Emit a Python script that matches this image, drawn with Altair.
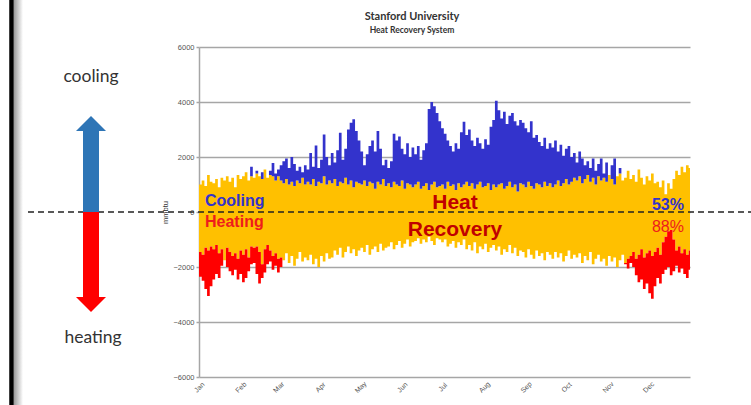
import altair as alt
import pandas as pd

# Calendar used by the x axis (day of year, binned in 2-day steps)
months = ["Jan", "Feb", "Mar", "Apr", "May", "Jun", "Jul", "Aug", "Sep", "Oct", "Nov", "Dec"]
month_start = [0, 31, 59, 90, 120, 151, 181, 212, 243, 273, 304, 334]
days_in_year = 365
bin_days = 2
y_ticks = [-6000, -4000, -2000, 0, 2000, 4000, 6000]

# Upper edge of the heat-recovery band (mmbtu), one value per 2-day bin
recovery_top = [
    1000, 1150, 950, 1350, 1100, 1050, 1200, 900, 1250, 1150,
    1300, 1100, 1250, 900, 1350, 1200, 1300, 1450, 1150, 1300,
    1250, 1400, 1300, 1200, 1550, 1250, 1350, 1300, 1150, 1300,
    1150, 1050, 1200, 1000, 1100, 950, 1150, 1050, 1250, 1000,
    1100, 1000, 1200, 950, 1100, 1050, 1300, 1000, 1150, 1050,
    1200, 950, 1100, 1050, 1250, 1000, 1150, 900, 1100, 1050,
    1000, 1150, 950, 1100, 1050, 850, 1100, 1000, 1200, 950,
    1050, 900, 1100, 1000, 950, 1150, 850, 1050, 1000, 900,
    1000, 1100, 850, 950, 1050, 800, 1000, 1100, 900, 950,
    1000, 850, 1100, 950, 1000, 800, 1050, 900, 1000, 1100,
    950, 1050, 850, 1000, 1100, 900, 950, 1050, 800, 1000,
    900, 1000, 1050, 850, 950, 1100, 900, 1000, 750, 1050,
    1000, 900, 1100, 950, 850, 1050, 1000, 900, 1100, 950,
    1050, 900, 1000, 1150, 950, 1050, 1200, 1000, 1100, 1250,
    1150, 1300, 1050, 1200, 1350, 1100, 1250, 1000, 1300, 1150,
    1250, 1100, 1350, 1200, 1000, 1300, 1400, 1150, 1250, 1500,
    1200, 1350, 1100, 1550, 1250, 1000, 1300, 1150, 1400, 1050,
    1100, 900, 1150, 650, 1050, 850, 1200, 1500, 1350, 1650,
    1450, 1700, 1600,
]

# Lower edge of the heat-recovery band (mmbtu)
recovery_bottom = [
    -1450, -1550, -1300, -1400, -1250, -1350, -1200, -1500, -1350, -1750,
    -1300, -1450, -1600, -1500, -1700, -1400, -1550, -1350, -1650, -1250,
    -1300, -1250, -1450, -1900, -1350, -1200, -1400, -1600, -1500, -1700,
    -1650, -1750, -1500, -1850, -1600, -1950, -1700, -1450, -1800, -1650,
    -1750, -1550, -1900, -1700, -2000, -1600, -1800, -1500, -1700, -1650,
    -1400, -1550, -1300, -1650, -1450, -1250, -1500, -1350, -1600, -1400,
    -1300, -1450, -1200, -1550, -1350, -1250, -1450, -1150, -1400, -1300,
    -1250, -1100, -1350, -1200, -1050, -1300, -1150, -1000, -1250, -1100,
    -1050, -950, -1150, -1000, -1100, -900, -1050, -1200, -950, -1000,
    -1100, -1000, -1250, -1150, -1050, -1300, -1100, -1200, -1000, -1350,
    -1200, -1400, -1100, -1500, -1250, -1350, -1150, -1450, -1300, -1200,
    -1400, -1250, -1550, -1350, -1450, -1200, -1500, -1300, -1600, -1400,
    -1450, -1650, -1350, -1550, -1700, -1400, -1600, -1500, -1750, -1450,
    -1550, -1700, -1450, -1650, -1500, -1800, -1600, -1400, -1700, -1550,
    -1650, -1500, -1850, -1600, -1750, -1450, -1900, -1700, -1550, -1800,
    -1700, -1950, -1600, -1800, -1650, -2000, -1750, -1550, -1850, -1700,
    -1600, -1450, -1700, -1550, -1350, -1650, -1500, -1400, -1600, -1450,
    -1300, -1550, -1100, -900, -700, -650, -1000, -1400, -1250, -1500,
    -1350, -1550, -1400,
]

# Peak of the cooling load above the recovery band (0 = no cooling)
cooling_top = [
    0, 0, 0, 0, 0, 0, 0, 0, 0, 0,
    0, 0, 0, 0, 0, 0, 0, 0, 0, 1650,
    0, 1500, 0, 1450, 0, 0, 1500, 1780, 1400, 1550,
    1700, 1850, 1950, 1600, 2000, 1750, 1500, 1650, 1450, 1700,
    1550, 2150, 1650, 2420, 1600, 1900, 2820, 2000, 1700, 2150,
    1800, 2250, 2880, 1900, 2300, 3000, 3250, 3370, 2950, 2600,
    2200, 1700, 2100, 2400, 2600, 2200, 2950, 2300, 1700, 1900,
    1600, 1850, 2850, 2600, 2750, 2300, 2100, 2500, 2000, 2350,
    2100, 2400, 1900, 2250, 2500, 3750, 4000, 3850, 3600, 3300,
    3050, 2850, 2600, 2400, 2200, 2500, 2300, 2900, 3280, 2800,
    3000, 2600, 2400, 2700, 2500, 2300, 2650, 2450, 3100, 3350,
    4050, 3700, 3400, 3650, 3200, 3500, 3600, 3300, 3150, 3350,
    3250, 3050, 2900, 3300, 2700, 2800, 2550, 2400, 2700, 2300,
    2500, 2350, 2600, 2200, 2450, 2050, 2300, 2400, 2000, 2150,
    1800, 2200, 1950, 1700, 1850, 1600, 1950, 1500, 1750, 1950,
    1400, 1800, 1350, 1700, 1950, 1300, 1600, 0, 0, 1450,
    0, 0, 0, 0, 0, 0, 0, 0, 0, 0,
    0, 0, 0, 0, 0, 0, 0, 0, 0, 0,
    0, 0, 0,
]

# Lowest point of the heating load below the recovery band (0 = no heating)
heating_bottom = [
    -2350, -2500, -2800, -3050, -2700, -2450, -2250, -2400, -1950, -1750,
    -2000, -2150, -2300, -2100, -2450, -2250, -2550, -2400, -2150, -1900,
    -1850, -2250, -2600, -2400, -2200, -1900, -1800, -2100, -1950, -2200,
    -2000, 0, 0, 0, 0, 0, 0, 0, 0, 0,
    0, 0, 0, 0, 0, 0, 0, 0, 0, 0,
    0, 0, 0, 0, 0, 0, 0, 0, 0, 0,
    0, 0, 0, 0, 0, 0, 0, 0, 0, 0,
    0, 0, 0, 0, 0, 0, 0, 0, 0, 0,
    0, 0, 0, 0, 0, 0, 0, 0, 0, 0,
    0, 0, 0, 0, 0, 0, 0, 0, 0, 0,
    0, 0, 0, 0, 0, 0, 0, 0, 0, 0,
    0, 0, 0, 0, 0, 0, 0, 0, 0, 0,
    0, 0, 0, 0, 0, 0, 0, 0, 0, 0,
    0, 0, 0, 0, 0, 0, 0, 0, 0, 0,
    0, 0, 0, 0, 0, 0, 0, 0, 0, 0,
    0, 0, 0, 0, 0, 0, 0, 0, -1900, -2050,
    -1850, -2000, -2300, -2550, -2450, -2800, -2600, -2950, -3150, -2700,
    -2400, -2600, -2250, -2100, -2000, -2300, -2150, -1950, -2200, -2050,
    -2250, -2400, -2100,
]

# Build the plotting table: each series as a band with a lower and upper edge
rows = []
for i, (rt, rb, ct, hb) in enumerate(zip(recovery_top, recovery_bottom, cooling_top, heating_bottom)):
    rows.append({
        "day": i * bin_days,
        "rec_top": rt,
        "rec_bot": rb,
        "cool_top": max(ct, rt),
        "heat_bot": min(hb, rb) if hb else rb,
    })
rows.append({**rows[-1], "day": days_in_year})  # closes the last step
df = pd.DataFrame(rows)
one = pd.DataFrame({"k": [0]})

W, H = 491, 330
LEFT, TOP = 199, 47

label_expr = "[{}][indexof([{}], datum.value)]".format(
    ",".join("'%s'" % m for m in months), ",".join(str(d) for d in month_start)
)

x_enc = alt.X(
    "day:Q",
    scale=alt.Scale(domain=[0, days_in_year], nice=False, zero=False),
    axis=alt.Axis(
        values=month_start, labelExpr=label_expr, labelAngle=315,
        labelAlign="center", labelBaseline="middle", labelPadding=10,
        labelFlush=False, labelOverlap=False, ticks=False, domain=False,
        grid=False, title=None, labelFontSize=7, labelColor="#555555",
        labelFont="Liberation Sans",
    ),
)
y_scale = alt.Scale(domain=[-6000, 6000], nice=False)
y_axis = alt.Axis(
    values=y_ticks, format="d", grid=True, gridColor="#A6A6A6", gridWidth=1.5,
    domainColor="#A6A6A6", domainWidth=1.5, tickColor="#A6A6A6", tickSize=3,
    tickWidth=1.5, labelPadding=2, labelFontSize=7.5, labelColor="#555555",
    labelFont="Liberation Sans", title="mmbtu", titleFontSize=7.5,
    titleFontWeight="normal", titleColor="#333333", titleFont="Liberation Sans",
    titlePadding=3,
)

base = alt.Chart(df)
recovery = base.mark_area(interpolate="step-after", color="#FFC000").encode(
    x=x_enc, y=alt.Y("rec_bot:Q", scale=y_scale, axis=y_axis), y2="rec_top:Q"
)
cooling = base.mark_area(interpolate="step-after", color="#3333CC").encode(
    x=x_enc, y=alt.Y("rec_top:Q", scale=y_scale, axis=y_axis), y2="cool_top:Q"
)
heating = base.mark_area(interpolate="step-after", color="#FF0000").encode(
    x=x_enc, y=alt.Y("heat_bot:Q", scale=y_scale, axis=y_axis), y2="rec_bot:Q"
)

# Dashed zero line running across the whole slide
zero_line = alt.Chart(one).mark_rule(color="#222222", strokeWidth=1.4, strokeDash=[6, 4]).encode(
    y=alt.datum(0), x=alt.value(28 - LEFT), x2=alt.value(751 - LEFT)
)

# Double arrow on the left: cooling up, heating down
arrow_x = 91 - LEFT
up_shaft = alt.Chart(one).mark_rule(color="#2E75B6", strokeWidth=16, strokeCap="butt").encode(
    x=alt.value(arrow_x), y=alt.datum(0), y2=alt.datum(2950)
)
down_shaft = alt.Chart(one).mark_rule(color="#FF0000", strokeWidth=16, strokeCap="butt").encode(
    x=alt.value(arrow_x), y=alt.datum(0), y2=alt.datum(-3090)
)
up_head = alt.Chart(one).mark_point(
    shape="M-1,0L1,0L0,-1Z", size=900, filled=True, opacity=1, color="#2E75B6", strokeWidth=0
).encode(x=alt.value(arrow_x), y=alt.datum(2950))
down_head = alt.Chart(one).mark_point(
    shape="M-1,0L1,0L0,1Z", size=900, filled=True, opacity=1, color="#FF0000", strokeWidth=0
).encode(x=alt.value(arrow_x), y=alt.datum(-3090))


def label(text, x, y, size, color, weight="normal", align="left", font="Liberation Sans"):
    return alt.Chart(pd.DataFrame({"t": [text]})).mark_text(
        align=align, baseline="alphabetic", fontSize=size, fontWeight=weight,
        color=color, font=font,
    ).encode(text="t:N", x=alt.value(x - LEFT), y=alt.value(y - TOP))


texts = [
    label("cooling", 91, 82, 17.5, "#333333", align="center", font="Lato"),
    label("heating", 93, 343, 17.5, "#333333", align="center", font="Lato"),
    label("Stanford University", 412, 20, 11, "#333333", "bold", "center", "Lato"),
    label("Heat Recovery System", 412, 33, 8.5, "#333333", "bold", "center", "Lato"),
    label("Cooling", 205, 206, 16, "#3333CC", "bold"),
    label("Heating", 205, 227, 16, "#EE1C1C", "bold"),
    label("Heat", 455, 209, 21, "#C00000", "bold", "center"),
    label("Recovery", 455, 236, 21, "#C00000", "bold", "center"),
    label("53%", 684, 210, 16, "#3333CC", "bold", "right"),
    label("88%", 684, 232, 16, "#EE1C1C", "normal", "right"),
]

# Slide frame on the left edge with a soft shadow
border = alt.Chart(one).mark_rule(color="#000000", strokeWidth=4.5).encode(
    x=alt.value(11.5 - LEFT), y=alt.value(-TOP), y2=alt.value(405 - TOP)
)
shadow = alt.Chart(one).mark_rect(
    color=alt.LinearGradient(
        gradient="linear", x1=0, x2=1, y1=0, y2=0,
        stops=[alt.GradientStop(color="#9a9a9a", offset=0), alt.GradientStop(color="#ffffff", offset=1)],
    )
).encode(x=alt.value(14 - LEFT), x2=alt.value(23 - LEFT), y=alt.value(-TOP), y2=alt.value(405 - TOP))

chart = alt.layer(
    recovery, cooling, heating, zero_line, up_shaft, down_shaft, up_head, down_head,
    border, shadow, *texts,
).properties(
    width=W, height=H,
    autosize=alt.AutoSizeParams(type="none"),
    padding={"left": LEFT, "top": TOP, "right": 751 - LEFT - W, "bottom": 405 - TOP - H},
    background="white",
).configure_view(stroke=None)

chart.save("out.html", embed_options={"renderer": "svg", "actions": False})
